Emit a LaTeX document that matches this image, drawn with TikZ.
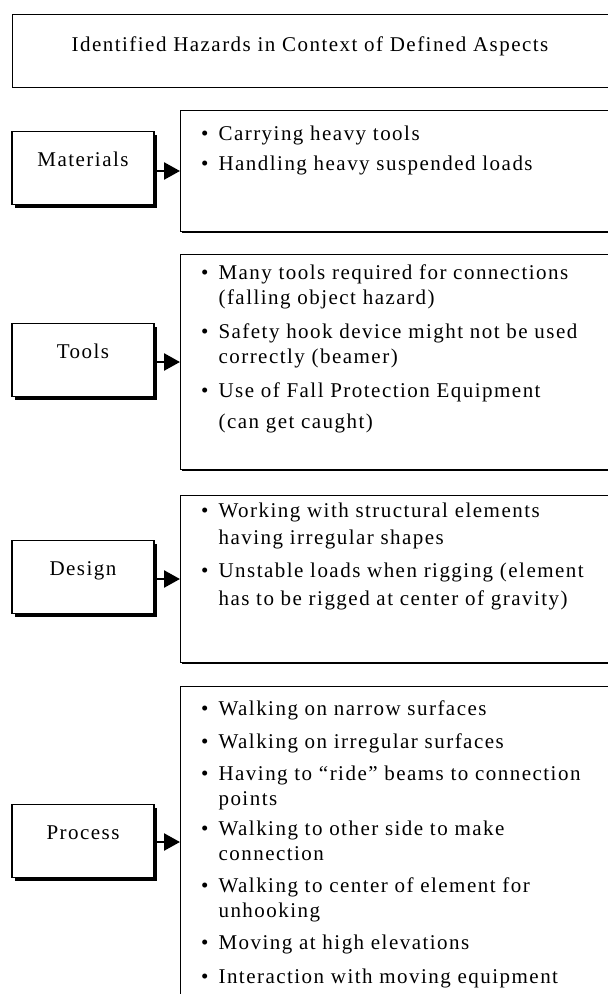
\documentclass[tikz,border=0pt]{standalone}
\usepackage{fontspec}
\setmainfont[LetterSpace=7]{Liberation Serif}
\usetikzlibrary{positioning,arrows.meta,shadows}

\newcommand{\hazfont}{\fontsize{21}{25}\selectfont}

\begin{document}
\begin{tikzpicture}[x=1pt, y=-1pt, font=\hazfont,
    aspect/.style={draw, line width=1.2pt, fill=white, minimum width=142pt,
      minimum height=73pt, inner sep=0pt, text height=13pt, text depth=16pt,
      drop shadow={shadow xshift=3pt, shadow yshift=-3pt, opacity=1, fill=black}},
    hazbox/.style={draw, line width=1.2pt, fill=white, anchor=north west,
      minimum width=460pt, inner sep=0pt,
      drop shadow={shadow xshift=1.5pt, shadow yshift=-1.5pt, opacity=1, fill=black}},
    hazlist/.style={anchor=north west, inner sep=0pt, align=left},
    feed/.style={line width=2.5pt, -{Triangle[length=16pt, width=17pt]}}]
      \useasboundingbox (0,0) rectangle (608,994);
      \clip (0,0) rectangle (608,994);

      % title
      \node[draw, line width=1.2pt, anchor=north west, minimum width=700pt,
        minimum height=73pt] (titlebox) at (12,14) {};
      \node (title) at (310,46) {Identified Hazards in Context of Defined Aspects};

      % aspects on the left
      \node[aspect] (mat) at (83,168) {Materials};
      \node[aspect] (tools) at (83,360) {Tools};
      \node[aspect] (design) at (83,577) {Design};
      \node[aspect] (process) at (83,841) {Process};

      % hazard boxes on the right
      \node[hazbox, minimum height=121pt] (matbox) at (180,110) {};
      \node[hazbox, minimum height=215pt] (toolsbox) at (180,254) {};
      \node[hazbox, minimum height=167pt] (designbox) at (180,495) {};
      \node[hazbox, minimum height=340pt] (processbox) at (180,686) {};

      \node[hazlist] (matlist) at (201,123) {%
        \begin{tabular}{@{}l@{\hspace{10pt}}l@{}}
        \textbullet & Carrying heavy tools\\[5pt]
        \textbullet & Handling heavy suspended loads
        \end{tabular}};
      \node[hazlist] (toolslist) at (201,262) {%
        \begin{tabular}{@{}l@{\hspace{10pt}}l@{}}
        \textbullet & Many tools required for connections\\
                    & (falling object hazard)\\[9pt]
        \textbullet & Safety hook device might not be used\\
                    & correctly (beamer)\\[9pt]
        \textbullet & Use of Fall Protection Equipment\\[6pt]
                    & (can get caught)
        \end{tabular}};
      \node[hazlist] (designlist) at (201,500) {%
        \begin{tabular}{@{}l@{\hspace{10pt}}l@{}}
        \textbullet & Working with structural elements\\[2pt]
                    & having irregular shapes\\[8pt]
        \textbullet & Unstable loads when rigging (element\\[3pt]
                    & has to be rigged at center of gravity)
        \end{tabular}};
      \node[hazlist] (processlist) at (201,698) {%
        \begin{tabular}{@{}l@{\hspace{10pt}}l@{}}
        \textbullet & Walking on narrow surfaces\\[8pt]
        \textbullet & Walking on irregular surfaces\\[7pt]
        \textbullet & Having to “ride” beams to connection\\
                    & points\\[5pt]
        \textbullet & Walking to other side to make\\
                    & connection\\[7pt]
        \textbullet & Walking to center of element for\\
                    & unhooking\\[7pt]
        \textbullet & Moving at high elevations\\[9pt]
        \textbullet & Interaction with moving equipment
        \end{tabular}};

      \draw[feed] ([yshift=-3pt]mat.east) -- ([yshift=-3pt]mat.east -| matbox.west);
      \draw[feed] ([yshift=-2pt]tools.east) -- ([yshift=-2pt]tools.east -| toolsbox.west);
      \draw[feed] ([yshift=-2pt]design.east) -- ([yshift=-2pt]design.east -| designbox.west);
      \draw[feed] ([yshift=-1pt]process.east) -- ([yshift=-1pt]process.east -| processbox.west);
    \end{tikzpicture}
\end{document}
